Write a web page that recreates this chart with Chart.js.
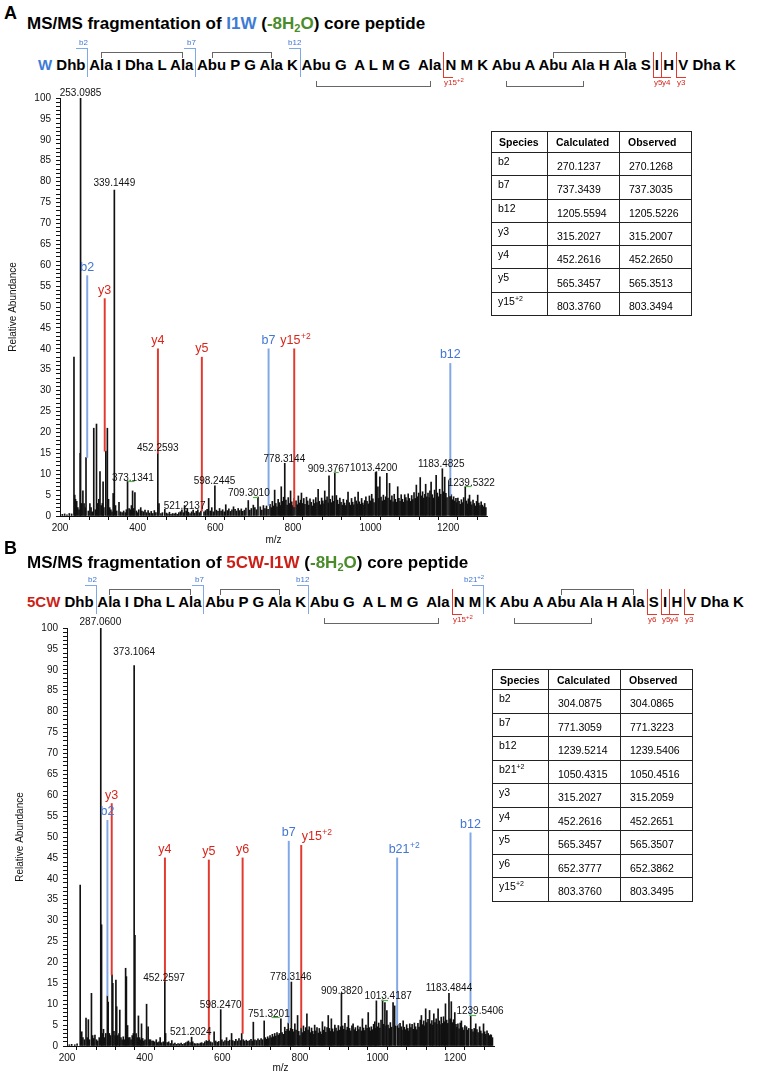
<!DOCTYPE html>
<html>
<head>
<meta charset="utf-8">
<script src="https://cdn.jsdelivr.net/npm/chart.js@4.4.1/dist/chart.umd.min.js"></script>
<style>
  body { margin: 0; background: #fff; font-family: "Liberation Sans", Arial, Helvetica, sans-serif; }
  #page { position: relative; width: 760px; height: 1074px; overflow: hidden; }
  .letter { position: absolute; font-weight: bold; font-size: 18px; line-height: 20px; }
  .title { position: absolute; font-weight: bold; font-size: 17px; line-height: 20px; white-space: nowrap; }
  .title sub { font-size: 11px; vertical-align: -3px; line-height: 0; }
  .seq { position: absolute; font-weight: bold; font-size: 15px; line-height: 18px; white-space: pre; }
  .mk { position: absolute; }
  .mklab { position: absolute; font-size: 8px; line-height: 9px; white-space: nowrap; }
  .mklab sup { font-size: 6px; vertical-align: 3px; line-height: 0; }
  table { position: absolute; border-collapse: collapse; table-layout: fixed; width: 200px; font-size: 10.5px; }
  th, td { border: 1px solid #222; padding: 0; text-align: left; }
  th { font-weight: bold; padding-left: 7px; vertical-align: middle; }
  td.sp { vertical-align: top; padding: 2px 0 0 6px; }
  td.v { vertical-align: middle; padding: 4px 0 0 9px; }
  td sup { font-size: 7px; vertical-align: 4px; line-height: 0; }
  canvas { position: absolute; left: 0; }
</style>
</head>
<body>
<div id="page">
  <div class="letter" style="left:4px;top:3px;">A</div>
  <div class="title" style="left:27px;top:14px;">MS/MS fragmentation of <span style="color:#3d7bd6">I1W</span> (<span style="color:#4a8c2a">-8H<sub>2</sub>O</span>) core peptide</div>
  <div class="seq" id="seqA" style="left:38px;top:56px;"></div>
  <canvas id="chartA" width="500" height="480" style="top:80px;"></canvas>

  <div class="letter" style="left:4px;top:538px;">B</div>
  <div class="title" style="left:27px;top:553px;">MS/MS fragmentation of <span style="color:#cc1f17">5CW-I1W</span> (<span style="color:#4a8c2a">-8H<sub>2</sub>O</span>) core peptide</div>
  <div class="seq" id="seqB" style="left:27px;top:593px;"></div>
  <canvas id="chartB" width="510" height="464" style="top:610px;"></canvas>
</div>

<script>
// ---- sequence ----
const seqRest = ['Dhb','Ala','I','Dha','L','Ala','Abu','P','G','Ala','K','Abu','G','A','L','M','G','Ala','N','M','K','Abu','A','Abu','Ala','H','Ala','S','I','H','V','Dha','K'];
const wideGaps = [14, 18];
const ringsSeq = [[2, 6, 'top'], [7, 10, 'top'], [12, 18, 'bottom'], [22, 25, 'bottom'], [24, 27, 'top']];
const markersA = [[1, 'b2', ''], [6, 'b7', ''], [11, 'b12', ''], [18, 'y15', '+2'], [28, 'y5', ''], [29, 'y4', ''], [30, 'y3', '']];
const markersB = [[1, 'b2', ''], [6, 'b7', ''], [11, 'b12', ''], [18, 'y15', '+2'], [20, 'b21', '+2'], [27, 'y6', ''], [28, 'y5', ''], [29, 'y4', ''], [30, 'y3', '']];

// ---- tables ----
const speciesA = ['b2', 'b7', 'b12', 'y3', 'y4', 'y5', 'y15+2'];
const calcA = ['270.1237', '737.3439', '1205.5594', '315.2027', '452.2616', '565.3457', '803.3760'];
const obsA = ['270.1268', '737.3035', '1205.5226', '315.2007', '452.2650', '565.3513', '803.3494'];
const speciesB = ['b2', 'b7', 'b12', 'b21+2', 'y3', 'y4', 'y5', 'y6', 'y15+2'];
const calcB = ['304.0875', '771.3059', '1239.5214', '1050.4315', '315.2027', '452.2616', '565.3457', '652.3777', '803.3760'];
const obsB = ['304.0865', '771.3223', '1239.5406', '1050.4516', '315.2059', '452.2651', '565.3507', '652.3862', '803.3495'];

// ---- spectrum A: [m/z, relative abundance] ----
const peaksA = [
  [206,0.4],[212,0.5],[218,0.3],[224,0.6],[230,0.5],[236,38],[238,5],[240,4],[243,3.5],[246,2],[249,1.5],[252,15],[253,100],[256,3],[259,6],[262,3],[265,2],[267,14],
  [273,1.2],[277,3],[280,2],[283,1],[287,21],[291,1.5],[294,22],[297,3],[300,4],[303,10.6],[306,2.5],[309,3],[311,8.2],[313,2],[318,15.5],[322,21],[325,4],[328,2],[331,1.5],[334,1],[337,5.4],[340,78],
  [343,2.5],[346,1.2],[352,3.3],[356,1],[360,0.8],[364,1.2],[368,0.8],[371,1.5],[374,8.4],[378,1.8],[381,1.5],[384,2.5],[387,6],[390,1.8],[393,5.6],[397,1.2],[400,0.8],[403,1.5],[408,2],[411,1.2],[415,1],[419,1.4],[423,0.8],[427,1.3],[431,0.7],[435,1.1],[439,0.6],[443,1.3],[447,0.8],[452,15],[455,3],
  [460,0.6],[464,0.8],[470,1.6],[474,0.7],[478,0.5],[482,0.9],[486,0.4],[490,0.6],[494,0.5],[498,0.7],[502,0.4],[506,0.8],[510,1],[514,1.5],[518,0.8],[521,2.5],[525,1.2],[528,1.8],[531,0.9],[535,0.6],[539,1],[543,1.4],[547,0.7],[551,1.1],[555,1.5],[559,0.8],[563,1.2],[571,1],[575,1.3],[579,1.6],[583,4.2],[587,1.2],[591,2],[595,1],[599,7.2],
  [603,1.4],[607,1.1],[611,1.8],[615,1.2],[619,1.5],[623,1],[627,2.7],[631,1.3],[635,1.7],[639,1.1],[643,1.5],[647,2.2],[651,1.6],[655,1.2],[659,1.8],[663,1.3],[667,1.7],[671,1.1],[675,1.4],[679,1.9],[685,3.7],[689,1.4],[693,1.8],[698,2.6],[702,2],[706,1.5],[710,4.5],[716,2.2],[720,1.4],[724,2.5],[728,1.8],[732,2.4],[736,1.6],
  [741,2.8],[744,2],[747,3.5],[750,2.4],[753,6.2],[756,3],[759,2.2],[762,4],[765,3.2],[768,2.5],[770,7],[773,3.5],[776,4.5],[779,12.6],[782,3.8],[785,2.6],[788,4.4],[791,3],[794,6],[797,3.4],[800,2.5],[803,4.2],
  [808,3.6],[811,2.7],[814,4.8],[817,3.1],[820,3.8],[822,5.5],[825,3],[828,4.2],[831,2.8],[835,4.5],[838,3.6],[841,2.6],[844,4.1],[847,3.3],[850,2.4],[853,3.9],[856,3],[859,4.4],[862,3.2],[865,6.4],[868,3.5],[871,2.7],[874,4.3],[877,3.6],[880,2.9],[882,6],[885,3.8],[888,4.6],[891,3.1],[893,9.6],[896,4],[899,3.2],[902,4.8],[905,3.5],[908,10.4],
  [912,4.9],[915,3.8],[918,2.8],[921,4.3],[924,3.3],[927,2.6],[930,4],[933,3.1],[936,2.5],[939,3.8],[942,5.7],[945,3.2],[948,2.6],[951,4.2],[954,3.3],[957,2.7],[960,4.5],[963,3.6],[966,2.9],[968,5.7],[971,3.4],[974,2.8],[977,4.2],[980,3.1],[983,2.6],[985,3.7],[988,4.6],[991,3.5],[994,2.9],[997,4.8],[1000,3.6],[1003,5.2],[1006,4.1],[1009,3.2],
  [1013,10.4],[1015,10.6],[1019,7],[1021,4.2],[1024,9.4],[1027,4.5],[1030,3.6],[1033,5],[1036,3.8],[1039,4.6],[1042,10.2],[1045,4.3],[1049,7.8],[1052,3.8],[1055,4.8],[1058,3.4],[1061,5.2],[1064,4],[1067,3.3],[1070,7],[1073,4.2],[1076,3.5],[1079,5.1],[1082,4],[1085,3.3],[1088,5.1],[1091,4.4],[1094,3.6],[1097,5.3],[1100,4.2],
  [1103,3.5],[1106,4.9],[1109,3.9],[1112,5.6],[1115,4.2],[1118,7.4],[1121,4.6],[1124,5.5],[1128,9.2],[1131,4.8],[1134,5.8],[1137,4.3],[1140,5.2],[1142,7.6],[1145,4.6],[1148,5.5],[1151,4.4],[1153,6],[1156,8.1],[1159,5.1],[1162,4.3],[1165,6.2],[1169,9.7],[1172,5.5],[1175,4.6],[1178,6.4],[1181,5.2],[1185,11.3],[1188,5.8],[1191,9.3],[1194,5.4],[1197,4.4],
  [1202,8.5],[1205,4.8],[1208,5.1],[1211,3.9],[1214,4.6],[1217,3.6],[1220,4.2],[1222,3.2],[1225,4.3],[1228,3.5],[1231,2.8],[1234,3.9],[1237,3.2],[1240,4.4],[1244,7],[1247,3.6],[1250,2.9],[1252,4.1],[1255,5],[1258,3.4],[1261,2.7],[1264,3.8],[1267,3],[1270,2.4],[1273,3.5],[1276,5],[1279,3.1],[1282,2.5],[1285,3.4],[1288,2.6],[1291,2.2],[1294,3],[1297,2]
];
const ionNameA = ['b2', 'y3', 'y4', 'y5', 'b7', 'y15', 'b12'];
const ionSupA = ['', '', '', '', '', '+2', ''];
const ionMzA = [270.1, 315.2, 452.3, 565.4, 737.3, 803.4, 1205.5];
const ionBaseA = [14, 15.5, 15, 1.2, 2.5, 2.2, 4.8];
const ionTopA = [57.5, 52, 40, 38, 40, 40, 36.5];
const ionLabelMzA = [270.1, 315.2, 452.3, 565.4, 737.3, 806, 1205.5];
const labelTextA = ['253.0985', '339.1449', '373.1341', '452.2593', '521.2137', '598.2445', '709.3010', '778.3144', '909.3767', '1013.4200', '1183.4825', '1239.5322'];
const labelMzA = [253, 340, 388, 452, 521, 598, 686.5, 778, 892, 1008, 1182, 1259.5];
const labelYA = [101.2, 79.6, 9.0, 16.2, 2.4, 8.4, 5.5, 13.6, 11.2, 11.5, 12.4, 7.9];
const greenA = [[374, 392, 8.4], [697, 710, 4.6], [905, 918, 10.5], [1244, 1260, 7.1]];

// ---- spectrum B ----
const peaksB = [
  [206,0.3],[212,0.4],[220,0.3],[226,0.5],[234,38.5],[238,3.4],[241,2],[245,1.5],[249,6.7],[252,2],[255,6.3],[258,1.5],[263,12.6],[266,2.5],[269,1.8],[272,2.6],[276,1.5],[279,1.2],[283,2],[287,100],[289,29],[291,3],[294,4],[297,2],[300,3],
  [304,12],[306,10.5],[309,3],[312,2.5],[316,17],[318,15],[321,3.5],[324,2.5],[326,15.8],[328,9.4],[331,2.5],[334,3],[336,8.6],[339,2],[342,1.5],[345,2.2],[348,1.5],[351,18.6],[353,16.6],[356,4.9],[359,2],[362,2],[365,1.5],[368,2.5],[371,3],[373,91],[375,26.5],[378,3],[381,2],[384,7.2],[387,2],[390,1.5],[392,5.3],[395,1.8],[398,1.2],
  [401,1.5],[405,10],[409,4.6],[412,1.5],[415,1.5],[419,1.2],[422,1.2],[426,1],[430,1.5],[434,0.8],[437,1],[440,2],[444,0.8],[448,1],[452,15.5],[454,3],[458,0.8],[462,1],[466,0.6],[470,1.3],[474,0.5],[478,0.7],[482,0.4],[486,0.6],[490,0.5],[494,0.7],[498,0.4],
  [502,0.6],[506,0.8],[510,1],[513,1.2],[517,0.8],[521,2.1],[524,1],[528,0.6],[532,0.5],[536,0.6],[540,0.5],[544,0.7],[547,0.8],[551,0.6],[555,1],[559,1.3],[563,1.1],[566,1.5],[570,1],[574,0.8],[579,3.4],[583,1.2],[587,0.9],[591,1.1],[596,8.7],[599,1.5],
  [603,1],[607,1.3],[611,2],[615,1.1],[619,1.4],[624,3],[627,1.3],[631,1.1],[635,1.6],[639,1.2],[643,1.8],[647,1.3],[650,3],[654,1.5],[658,1.2],[662,1.4],[666,1.1],[670,1.3],[674,1.6],[677,1.2],[680,5.7],[684,1.5],[688,1.3],[692,1.7],[696,1.4],[700,1.8],
  [704,1.5],[708,6],[711,2],[714,1.6],[717,2.2],[720,1.8],[723,2.5],[726,2],[729,2.8],[732,2.2],[735,3],[738,2.4],[741,3.2],[744,2.6],[747,3],[751,6.5],[754,3.2],[757,2.8],[761,4.5],[764,3.5],[767,4],[770,5.5],[773,3.6],[776,4.2],[778,15.3],[781,4],[784,3.4],[787,5.3],[790,3.8],[794,7.3],[797,3.5],[800,2.5],
  [803,4.3],[806,3.2],[809,4.8],[812,3.5],[815,4.4],[818,7.7],[821,3.8],[824,4.6],[827,3.2],[830,4.3],[833,3.5],[836,2.8],[838,5],[841,3.6],[844,4.4],[847,3.1],[850,4.2],[853,3.4],[856,2.8],[858,5.8],[861,3.8],[864,4.6],[867,3.3],[870,4.4],[873,7.3],[876,4.2],[879,3.5],[881,6.5],[884,4.1],[887,3.4],[890,5],[893,4.3],[896,3.6],[899,4.9],
  [902,3.8],[905,4.6],[907,12.6],[910,4.8],[913,4],[916,5.4],[919,3.8],[922,4.5],[925,7.3],[928,4.2],[931,3.6],[934,4.8],[937,5.3],[940,3.9],[943,4.4],[946,3.5],[949,4.8],[952,3.9],[955,4.5],[958,3.6],[961,6.5],[964,4.3],[967,3.7],[970,5],[973,4.2],[976,8],[979,4.4],[982,3.6],[984,4.6],[987,3.9],[990,5.2],[993,5.8],[995,4.2],[997,10.8],
  [1000,4.6],[1003,5.5],[1006,4.3],[1009,6.2],[1013,11],[1016,5.2],[1019,10.4],[1022,4.8],[1024,8.5],[1027,5],[1030,4.2],[1033,5.6],[1036,4.5],[1040,10.4],[1044,9.6],[1047,4.8],[1052,5.2],[1055,4.3],[1058,5.4],[1061,4.6],[1063,3.8],[1066,6],[1069,4.5],[1072,3.9],[1075,5.1],[1078,4.2],[1080,3.6],[1083,5.3],[1086,4.4],[1089,5.2],[1092,4],[1095,5.5],[1098,4.6],
  [1101,3.9],[1104,5.4],[1107,4.5],[1110,6.2],[1113,7.3],[1116,5.1],[1119,6],[1121,4.8],[1124,8.9],[1127,5.6],[1130,6.4],[1134,8.5],[1137,5.3],[1140,6.1],[1142,5],[1145,7.7],[1148,5.6],[1151,6.5],[1153,5.2],[1156,8.9],[1159,6],[1161,5.1],[1164,6.9],[1167,5.4],[1170,7],[1173,5.8],[1175,10.1],[1178,6.2],[1181,5.4],[1184,12.6],[1187,6.5],[1190,10.6],[1193,5.6],[1196,6.3],[1199,8],
  [1202,5.2],[1204,4.5],[1207,5.3],[1210,4.1],[1213,5.5],[1216,6],[1219,4.4],[1222,3.8],[1225,4.9],[1229,4.6],[1232,3.8],[1235,4.2],[1240,7.3],[1243,4],[1246,3.4],[1249,4.2],[1253,5.3],[1256,3.9],[1259,3.2],[1263,4.6],[1266,3.6],[1269,3],[1273,5.3],[1276,3.4],[1279,2.8],[1282,3.6],[1285,3],[1288,2.5],[1291,2.7],[1293,2.6],[1296,2]
];
const ionNameB = ['b2', 'y3', 'y4', 'y5', 'y6', 'b7', 'y15', 'b21', 'b12'];
const ionSupB = ['', '', '', '', '', '', '+2', '+2', ''];
const ionMzB = [304.1, 315.2, 452.3, 565.4, 652.4, 771.3, 803.4, 1050.5, 1239.5];
const ionBaseB = [12, 17, 15.5, 1.5, 3, 5.5, 4.3, 5, 7.3];
const ionTopB = [54, 58, 45, 44.5, 45, 49, 48, 45, 51];
const ionLabelMzB = [304.1, 315.2, 452.3, 565.4, 652.4, 771.3, 843, 1068, 1239.5];
const labelTextB = ['287.0600', '373.1064', '452.2597', '521.2024', '598.2470', '751.3201', '778.3146', '909.3820', '1013.4187', '1183.4844', '1239.5406'];
const labelMzB = [286, 373, 450, 519, 596, 720, 776.5, 908, 1027.5, 1184, 1264];
const labelYB = [101.4, 94.2, 16.2, 3.3, 9.8, 7.6, 16.4, 13.2, 11.8, 13.8, 8.2];
const greenB = [[727, 748, 7], [1010, 1027, 11], [1237, 1254, 7.3]];

const FONT = '"Liberation Sans", Arial, Helvetica, sans-serif';
const BLUE_LINE = '#80a7e6', RED_LINE = '#e2382d';
const BLUE_TXT = '#4276d2', RED_TXT = '#d7261c';
const page = document.getElementById('page');

function bar(x, y, w, h, color) {
  const d = document.createElement('div');
  d.className = 'mk';
  d.style.cssText = `left:${x}px;top:${y}px;width:${w}px;height:${h}px;background:${color};`;
  page.appendChild(d);
}

function buildSeq(id, first, firstColor, markers) {
  const el = document.getElementById(id);
  const toks = [first].concat(seqRest);
  toks.forEach((t, i) => {
    if (i > 0) el.appendChild(document.createTextNode(wideGaps.includes(i) ? '  ' : ' '));
    const s = document.createElement('span');
    s.textContent = t;
    if (i === 0) s.style.color = firstColor;
    el.appendChild(s);
  });
  const base = page.getBoundingClientRect();
  const spans = el.querySelectorAll('span');
  const rect = i => spans[i].getBoundingClientRect();
  const r0 = rect(0);
  const cy = (r0.top + r0.bottom) / 2 - base.top;
  const cx = i => { const r = rect(i); return (r.left + r.right) / 2 - base.left; };

  // thioether rings
  ringsSeq.forEach(([a, b, pos]) => {
    const x1 = Math.round(cx(a)), x2 = Math.round(cx(b));
    const yy = pos === 'top' ? cy - 13 : cy + 21;
    bar(x1, yy, x2 - x1 + 1, 1.3, '#666');
    const ty = pos === 'top' ? yy : yy - 5;
    bar(x1, ty, 1.3, 6, '#666');
    bar(x2, ty, 1.3, 6, '#666');
  });

  // fragment markers
  markers.forEach(([after, name, sup]) => {
    const x = Math.round((rect(after).right + rect(after + 1).left) / 2 - base.left);
    const lab = document.createElement('div');
    lab.className = 'mklab';
    lab.innerHTML = name + (sup ? '<sup>' + sup + '</sup>' : '');
    if (name[0] === 'b') {
      bar(x, cy - 17, 1.3, 29, BLUE_LINE);
      bar(x - 11, cy - 17, 12, 1.2, BLUE_LINE);
      lab.style.color = BLUE_TXT;
      page.appendChild(lab);
      lab.style.left = (x + 1 - lab.offsetWidth) + 'px';
      lab.style.top = (cy - 27) + 'px';
    } else {
      bar(x, cy - 13, 1.3, 26, RED_LINE);
      bar(x, cy + 12, 10, 1.2, RED_LINE);
      lab.style.color = RED_TXT;
      lab.style.left = (x + 1) + 'px';
      lab.style.top = (cy + 13) + 'px';
      page.appendChild(lab);
    }
  });
}

function spHtml(s) {
  const k = s.indexOf('+');
  return k < 0 ? s : s.slice(0, k) + '<sup>' + s.slice(k) + '</sup>';
}

function makeTable(left, top, headH, rowH, species, calc, obs) {
  const t = document.createElement('table');
  t.style.left = left + 'px';
  t.style.top = top + 'px';
  let h = '<colgroup><col style="width:56px"><col style="width:72px"><col style="width:72px"></colgroup>';
  h += `<tr style="height:${headH}px"><th>Species</th><th style="padding-left:8px">Calculated</th><th style="padding-left:8px">Observed</th></tr>`;
  species.forEach((s, i) => {
    h += `<tr style="height:${rowH}px"><td class="sp">${spHtml(s)}</td><td class="v">${calc[i]}</td><td class="v">${obs[i]}</td></tr>`;
  });
  t.innerHTML = h;
  page.appendChild(t);
}

// annotations drawn on top of the spectrum through the chart scales
const annotate = {
  id: 'annotate',
  afterDatasetsDraw(chart, args, o) {
    const { ctx, scales: { x, y } } = chart;
    ctx.save();
    // green markers
    ctx.strokeStyle = '#52b84a';
    ctx.lineWidth = 1.2;
    o.green.forEach(([m1, m2, v]) => {
      const py = Math.round(y.getPixelForValue(v)) + 0.5;
      ctx.beginPath();
      ctx.moveTo(x.getPixelForValue(m1), py);
      ctx.lineTo(x.getPixelForValue(m2), py);
      ctx.stroke();
    });
    // peak m/z labels
    ctx.fillStyle = '#111';
    ctx.font = '10px ' + FONT;
    ctx.textAlign = 'center';
    ctx.textBaseline = 'middle';
    o.labelText.forEach((t, i) => {
      ctx.fillText(t, x.getPixelForValue(o.labelMz[i]), y.getPixelForValue(o.labelY[i]));
    });
    // ion labels
    ctx.textAlign = 'left';
    ctx.textBaseline = 'alphabetic';
    o.ionName.forEach((n, i) => {
      const px = x.getPixelForValue(o.ionLabelMz[i]);
      const py = y.getPixelForValue(o.ionTop[i]) - 5;
      ctx.fillStyle = n[0] === 'b' ? BLUE_TXT : RED_TXT;
      ctx.font = '12.5px ' + FONT;
      const w1 = ctx.measureText(n).width;
      ctx.font = '8.5px ' + FONT;
      const w2 = o.ionSup[i] ? ctx.measureText(o.ionSup[i]).width : 0;
      const x0 = px - (w1 + w2) / 2;
      ctx.font = '12.5px ' + FONT;
      ctx.fillText(n, x0, py);
      if (o.ionSup[i]) {
        ctx.font = '8.5px ' + FONT;
        ctx.fillText(o.ionSup[i], x0 + w1 + 0.5, py - 5);
      }
    });
    ctx.restore();
  }
};

function buildChart(id, d) {
  const ionColors = d.ionName.map(n => n[0] === 'b' ? BLUE_LINE : RED_LINE);
  return new Chart(document.getElementById(id), {
    type: 'bar',
    data: {
      datasets: [
        {
          label: 'ions',
          data: d.ionMz.map((m, i) => ({ x: m, y: [d.ionBase[i], d.ionTop[i]] })),
          backgroundColor: ionColors,
          barThickness: 1.3,
          grouped: false,
          borderWidth: 0
        },
        {
          label: 'spectrum',
          data: d.peaks.map(p => ({ x: p[0], y: p[1] })),
          backgroundColor: '#111',
          barThickness: 1,
          grouped: false,
          borderWidth: 0
        }
      ]
    },
    options: {
      responsive: false,
      animation: false,
      layout: { padding: { left: 0, right: d.padRight, top: 18, bottom: 0 } },
      plugins: {
        legend: { display: false },
        tooltip: { enabled: false },
        annotate: d
      },
      scales: {
        x: {
          type: 'linear',
          min: 200,
          max: 1300,
          offset: false,
          grid: { drawOnChartArea: false, tickLength: 4, color: '#111' },
          border: { color: '#111' },
          ticks: {
            stepSize: 50,
            autoSkip: false,
            maxRotation: 0,
            padding: 2,
            color: '#111',
            font: { size: 10, family: FONT },
            callback: v => (v % 200 === 0 ? v : '')
          },
          title: { display: true, text: 'm/z', color: '#111', font: { size: 10, family: FONT }, padding: { top: 0, bottom: d.xTitlePad } },
          afterFit: s => { s.height = d.xHeight; }
        },
        y: {
          min: 0,
          max: 100,
          grid: { drawOnChartArea: false, tickLength: 4, color: '#111' },
          border: { color: '#111' },
          ticks: {
            stepSize: 1,
            autoSkip: false,
            padding: 5,
            color: '#111',
            font: { size: 10, family: FONT },
            callback: v => (v % 5 === 0 ? v : '')
          },
          title: { display: true, text: 'Relative Abundance', color: '#111', font: { size: 10, family: FONT }, padding: { top: d.yTitlePad, bottom: 0 } },
          afterFit: s => { s.width = d.yWidth; }
        }
      }
    },
    plugins: [annotate]
  });
}

buildSeq('seqA', 'W', '#3d7bd6', markersA);
buildSeq('seqB', '5CW', '#cc1f17', markersB);
makeTable(491, 131, 21, 23.3, speciesA, calcA, obsA);
makeTable(492, 669, 20, 23.5, speciesB, calcB, obsB);

buildChart('chartA', {
  peaks: peaksA, ionName: ionNameA, ionSup: ionSupA, ionMz: ionMzA, ionBase: ionBaseA, ionTop: ionTopA, ionLabelMz: ionLabelMzA,
  labelText: labelTextA, labelMz: labelMzA, labelY: labelYA, green: greenA,
  yWidth: 60, xHeight: 44, padRight: 13, xTitlePad: 14, yTitlePad: 7
});
buildChart('chartB', {
  peaks: peaksB, ionName: ionNameB, ionSup: ionSupB, ionMz: ionMzB, ionBase: ionBaseB, ionTop: ionTopB, ionLabelMz: ionLabelMzB,
  labelText: labelTextB, labelMz: labelMzB, labelY: labelYB, green: greenB,
  yWidth: 67, xHeight: 28, padRight: 16, xTitlePad: 0, yTitlePad: 14
});
</script>
</body>
</html>
